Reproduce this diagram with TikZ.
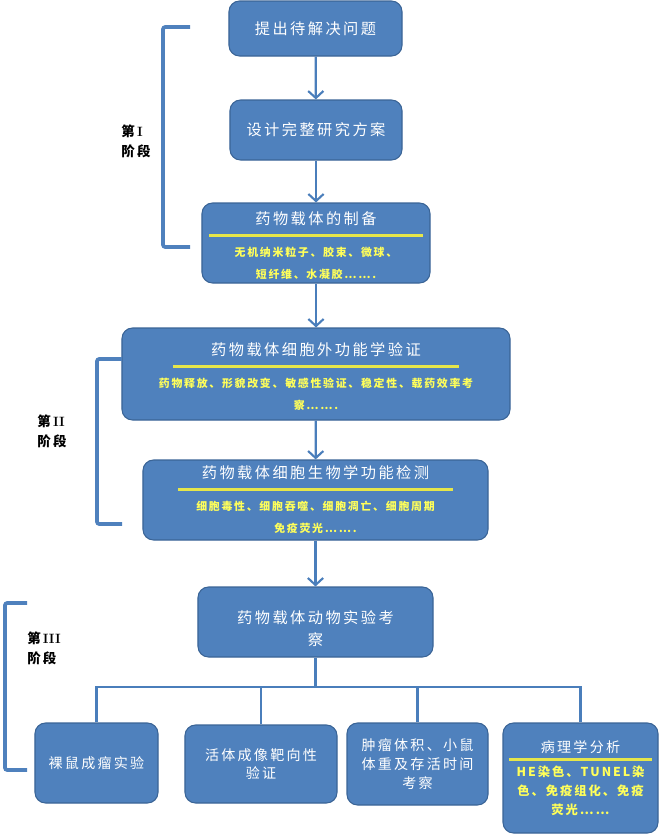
\documentclass[tikz,border=0pt]{standalone}
\usepackage{fontspec}
\newfontfamily\cjk[LetterSpace=16]{Noto Sans CJK SC}
\usetikzlibrary{arrows.meta,positioning}
\definecolor{fcBlue}{HTML}{4F81BD}
\definecolor{fcEdge}{HTML}{3A6496}
\definecolor{fcLine}{HTML}{4A7EBB}
\definecolor{fcYellow}{HTML}{FFFF5A}
\definecolor{fcRule}{HTML}{E6E64A}
\tikzset{
  mbox/.style={rectangle,rounded corners=9pt,
    draw=fcEdge,line width=0.9pt,fill=fcBlue,
    align=center,text=white,inner sep=2pt,
    font=\cjk\fontsize{13}{19}\selectfont},
  leafbox/.style={mbox,font=\cjk\fontsize{12}{16}\selectfont},
  arr/.style={-{Straight Barb[length=6pt,width=13pt,line width=1.8pt]},
    line width=1.9pt,color=fcLine},
  conn/.style={line width=1.9pt,color=fcLine},
  brk/.style={line width=3.2pt,color=fcBlue,rounded corners=2pt},
  lbl/.style={font=\cjk\bfseries\fontsize{11.5}{17}\selectfont,
    align=left,text=black},
}
\newcommand{\substy}{\color{fcYellow}\bfseries\fontsize{9.3}{16}\selectfont}
\newcommand{\pathsty}{\color{fcYellow}\bfseries\fontsize{10.5}{16}\selectfont}
\newcommand{\yrule}[1]{\textcolor{fcRule}{\rule[2pt]{#1}{2.2pt}}}

\begin{document}
\begin{tikzpicture}[x=0.03cm,y=-0.03cm]
  \useasboundingbox (0,0) rectangle (660,834);

  % main column
  \node[mbox,minimum width=5.19cm,minimum height=1.65cm] (ask) at (315.5,28.5)
    {提出待解决问题};
  \node[mbox,minimum width=5.16cm,minimum height=1.8cm] (plan) at (316,130)
    {设计完整研究方案};
  \node[mbox,minimum width=6.84cm,minimum height=2.4cm] (prep) at (316,243)
    {\rule{0pt}{16pt}药物载体的制备\\[-7pt]\yrule{6.39cm}\\[-4pt]
     \substy 无机纳米粒子、胶束、微球、\\\substy 短纤维、水凝胶…….};
  \node[mbox,minimum width=11.64cm,minimum height=2.76cm] (invitro) at (316,374)
    {\rule{0pt}{16pt}药物载体细胞外功能学验证\\[-7pt]\yrule{8.58cm}\\[-4pt]
     \substy 药物释放、形貌改变、敏感性验证、稳定性、载药效率考\\\substy 察…….};
  \node[mbox,minimum width=10.35cm,minimum height=2.4cm] (cellbio) at (315.5,500)
    {药物载体细胞生物学功能检测\\[-7pt]\yrule{8.25cm}\\[-4pt]
     \substy 细胞毒性、细胞吞噬、细胞凋亡、细胞周期\\\substy 免疫荧光…….};
  \node[mbox,minimum width=7.05cm,minimum height=2.1cm] (animal) at (315.5,622)
    {\rule{0pt}{22pt}药物载体动物实验考\\察};

  % animal experiments
  \node[leafbox,minimum width=3.69cm,minimum height=2.4cm] (nude) at (96.5,763)
    {裸鼠成瘤实验};
  \node[leafbox,minimum width=4.56cm,minimum height=2.34cm] (imaging) at (261,764)
    {活体成像靶向性\\验证};
  \node[leafbox,minimum width=4.23cm,minimum height=2.46cm] (tumor) at (417.5,764)
    {肿瘤体积、小鼠\\体重及存活时间\\考察};
  \node[leafbox,minimum width=4.65cm,minimum height=3.3cm] (patho) at (580.5,778)
    {病理学分析\\[-7pt]\yrule{4.29cm}\\[-4pt]
     \pathsty HE染色、TUNEL染\\\pathsty 色、免疫组化、免疫\\\pathsty 荧光……};

  \draw[arr] (ask) -- (plan);
  \draw[arr] (plan) -- (prep);
  \draw[arr] (prep) -- (invitro);
  \draw[arr] (invitro) -- (cellbio);
  \draw[arr] (cellbio) -- (animal);

  \coordinate (split) at (315.5,687);
  \draw[conn] (animal) -- (split);
  \draw[conn] (nude.north) |- (split) -| (patho.north);
  \draw[conn] (imaging.north) -- (imaging.north |- split);
  \draw[conn] (tumor.north) -- (tumor.north |- split);

  % stage brackets
  \draw[brk] (190,27) -- (163,27) -- (163,247) -- (190,247);
  \node[lbl] (st1) at (136,141) {第\textbf{\rmfamily I}\\阶段};
  \draw[brk] (122,359) -- (97,359) -- (97,524) -- (122,524);
  \node[lbl] (st2) at (52,431) {第\textbf{\rmfamily II}\\阶段};
  \draw[brk] (27,603) -- (5,603) -- (5,770) -- (27,770);
  \node[lbl] (st3) at (44,648) {第\textbf{\rmfamily III}\\阶段};
\end{tikzpicture}
\end{document}
